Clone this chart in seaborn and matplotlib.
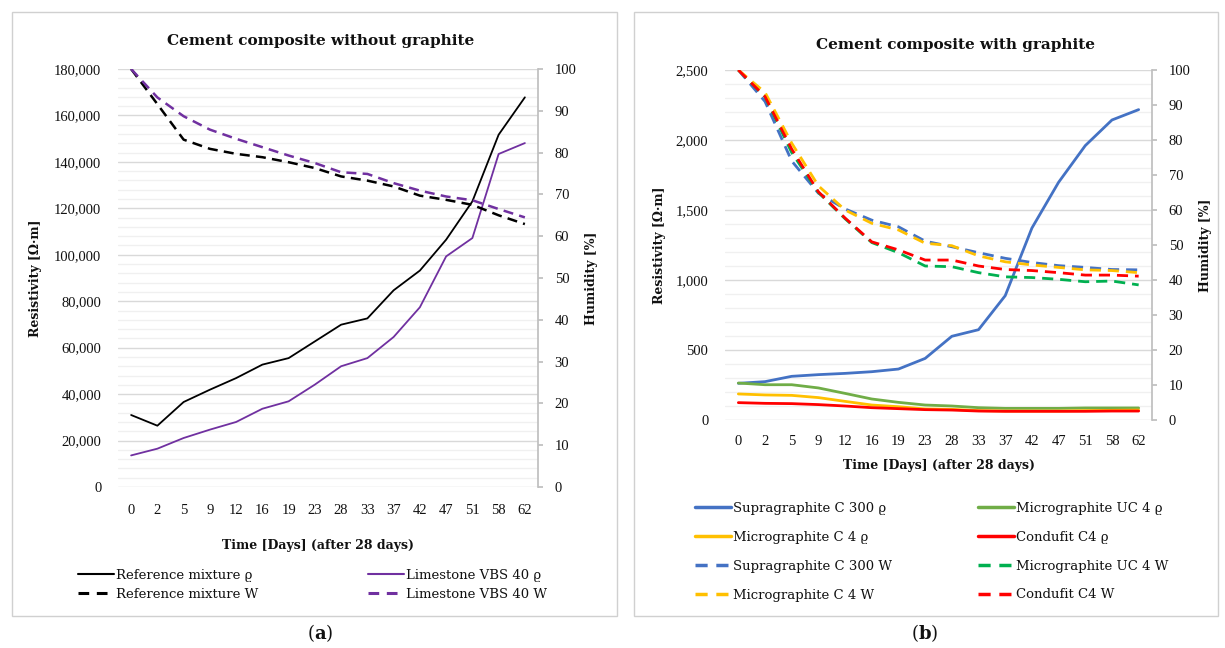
import numpy as np
import pandas as pd
import matplotlib
matplotlib.use('Agg')
import matplotlib.pyplot as plt
import seaborn as sns
from matplotlib.ticker import MultipleLocator, FuncFormatter
from matplotlib.lines import Line2D
from matplotlib.patches import Rectangle

# ---------------- data ----------------
days = ['0', '2', '5', '9', '12', '16', '19', '23', '28', '33', '37', '42', '47', '51', '58', '62']

# panel (a): without graphite
ref_rho = [31000, 26400, 36600, 41900, 46900, 52700, 55500, 62700, 69900, 72600,
           84700, 93200, 106500, 123000, 151700, 167800]
lime_rho = [13600, 16500, 21100, 24700, 28000, 33700, 36900, 44100, 52000, 55500,
            64600, 77400, 99300, 107200, 143400, 148100]
ref_w = [100, 91.6, 83.1, 80.9, 79.7, 78.9, 77.7, 76.3, 74.3, 73.3, 71.9, 69.7, 68.7, 67.5, 65.0, 62.9]
lime_w = [100, 93.2, 88.7, 85.5, 83.3, 81.3, 79.3, 77.5, 75.3, 74.9, 72.7, 70.9, 69.5, 68.6, 66.5, 64.5]

# panel (b): with graphite
supra_rho = [262, 274, 312, 324, 333, 345, 364, 440, 598, 645, 888, 1371, 1698, 1960, 2143, 2217]
microuc_rho = [264, 252, 252, 229, 190, 150, 126, 107, 100, 88, 83, 83, 83, 86, 86, 86]
microc_rho = [186, 179, 176, 160, 133, 107, 95, 79, 76, 67, 64, 64, 64, 67, 69, 71]
condufit_rho = [124, 119, 117, 110, 100, 88, 81, 74, 71, 64, 62, 62, 62, 62, 64, 64]
supra_w = [100, 91.0, 74.0, 64.8, 60.3, 57.1, 55.2, 51.1, 49.5, 47.8, 46.2, 45.0, 44.1, 43.6, 43.0, 42.9]
microuc_w = [100, 92.3, 76.4, 65.0, 57.5, 50.7, 47.8, 44.0, 43.8, 42.1, 40.9, 40.7, 40.2, 39.5, 39.7, 38.6]
microc_w = [100, 93.6, 79.1, 66.9, 60.0, 56.2, 54.3, 50.5, 49.8, 46.9, 45.2, 44.3, 43.6, 42.9, 42.7, 42.1]
condufit_w = [100, 92.4, 77.4, 65.2, 57.7, 50.9, 48.6, 45.7, 45.7, 44.0, 43.0, 42.7, 42.1, 41.4, 41.4, 41.1]

labels_a = ['Reference mixture ϱ', 'Reference mixture W', 'Limestone VBS 40 ϱ', 'Limestone VBS 40 W']
labels_b = ['Supragraphite C 300 ϱ', 'Micrographite C 4 ϱ', 'Supragraphite C 300 W', 'Micrographite C 4 W',
            'Micrographite UC 4 ϱ', 'Condufit C4 ϱ', 'Micrographite UC 4 W', 'Condufit C4 W']

# ---------------- style ----------------
sns.set_theme(style='white')
plt.rcParams['font.family'] = ['DejaVu Serif', 'DejaVu Sans']
plt.rcParams['mathtext.fontset'] = 'dejavuserif'
TXT = '#111111'
TICKFONT = ['Liberation Serif', 'DejaVu Serif']
TICKSIZE = 10.5

W, H = 1225, 648
fig = plt.figure(figsize=(W / 100, H / 100), dpi=100)
fig.patch.set_facecolor('white')


def rect(x0, y0, x1, y1):
    return [x0 / W, 1 - y1 / H, (x1 - x0) / W, (y1 - y0) / H]


# panel frames
for (x0, x1) in [(12, 617), (634, 1218)]:
    fig.patches.append(Rectangle((x0 / W, 1 - 616 / H), (x1 - x0) / W, (616 - 12) / H,
                                 transform=fig.transFigure, fill=False, ec='#D0D0D0', lw=1))

axL = fig.add_axes(rect(118, 69, 538, 487))
axR = fig.add_axes(rect(725, 70, 1152, 420))
pos = np.arange(len(days))


def fontify(ax):
    for lab in ax.get_xticklabels() + ax.get_yticklabels():
        lab.set_family(TICKFONT)
        lab.set_fontsize(TICKSIZE)
        lab.set_color(TXT)


def setup(ax, ymax, major, minor, xpad):
    ax.set_xlim(-0.5, len(days) - 0.5)
    ax.set_ylim(0, ymax)
    ax.yaxis.set_major_locator(MultipleLocator(major))
    ax.yaxis.set_minor_locator(MultipleLocator(minor))
    ax.yaxis.set_major_formatter(FuncFormatter(lambda v, p: f'{int(round(v)):,}'))
    ax.grid(axis='y', which='major', color='#D9D9D9', lw=1)
    ax.grid(axis='y', which='minor', color='#F0F0F0', lw=1)
    ax.grid(axis='x', visible=False)
    for s in ax.spines.values():
        s.set_visible(False)
    ax.set_xticks(pos)
    ax.set_xticklabels(days)
    ax.tick_params(axis='x', length=0, pad=xpad)
    ax.tick_params(axis='y', which='both', length=0, pad=12)
    ax.set_axisbelow(True)
    tw = ax.twinx()
    tw.set_ylim(0, 100)
    tw.yaxis.set_major_locator(MultipleLocator(10))
    for k, s in tw.spines.items():
        s.set_visible(k == 'right')
    tw.spines['right'].set_color('#BFBFBF')
    tw.tick_params(axis='y', length=3.5, color='#BFBFBF', direction='out', pad=8.5)
    tw.grid(False)
    return tw


def draw(ax, vals, color, lw, dashed):
    df = pd.DataFrame({'pos': pos, 'val': vals})
    ls = (0, (4, 2.5)) if dashed else '-'
    sns.lineplot(data=df, x='pos', y='val', ax=ax, color=color, lw=lw, linestyle=ls)
    ax.set_xlabel('')
    ax.set_ylabel('')


twL = setup(axL, 180000, 20000, 4000, 12)
twR = setup(axR, 2500, 500, 100, 11)

# panel (a)
BLACK, PURPLE = '#000000', '#7030A0'
draw(axL, ref_rho, BLACK, 1.3, False)
draw(axL, lime_rho, PURPLE, 1.3, False)
draw(twL, ref_w, BLACK, 1.8, True)
draw(twL, lime_w, PURPLE, 1.8, True)

# panel (b)
BLUE, GREEN, YEL, RED, GREEN2 = '#4472C4', '#70AD47', '#FFC000', '#FF0000', '#00B050'
draw(axR, supra_rho, BLUE, 2.0, False)
draw(axR, microuc_rho, GREEN, 2.0, False)
draw(axR, microc_rho, YEL, 2.0, False)
draw(axR, condufit_rho, RED, 2.0, False)
draw(twR, supra_w, BLUE, 2.0, True)
draw(twR, microuc_w, GREEN2, 2.0, True)
draw(twR, microc_w, YEL, 2.0, True)
draw(twR, condufit_w, RED, 2.0, True)

for a in (axL, axR):
    a.set_xticks(pos)
    a.set_xticklabels(days)
for a in (axL, axR, twL, twR):
    fontify(a)

# titles and axis labels
fig.text(321 / W, 1 - 41 / H, 'Cement composite without graphite', ha='center', va='center',
         fontsize=11, fontweight='bold', color=TXT)
fig.text(955 / W, 1 - 45 / H, 'Cement composite with graphite', ha='center', va='center',
         fontsize=11, fontweight='bold', color=TXT)
fig.text(35 / W, 1 - 278 / H, 'Resistivity [Ω·m]', rotation=90, ha='center', va='center',
         fontsize=9, fontweight='bold', color=TXT)
fig.text(592 / W, 1 - 278 / H, 'Humidity [%]', rotation=90, ha='center', va='center',
         fontsize=9, fontweight='bold', color=TXT)
fig.text(318 / W, 1 - 545 / H, 'Time [Days] (after 28 days)', ha='center', va='center',
         fontsize=9, fontweight='bold', color=TXT)
fig.text(660 / W, 1 - 245 / H, 'Resistivity [Ω·m]', rotation=90, ha='center', va='center',
         fontsize=9, fontweight='bold', color=TXT)
fig.text(1206 / W, 1 - 245 / H, 'Humidity [%]', rotation=90, ha='center', va='center',
         fontsize=9, fontweight='bold', color=TXT)
fig.text(939 / W, 1 - 466 / H, 'Time [Days] (after 28 days)', ha='center', va='center',
         fontsize=9, fontweight='bold', color=TXT)

# captions
fig.text(320 / W, 1 - 633 / H, r'($\mathbf{a}$)', ha='center', va='center', fontsize=13, color=TXT)
fig.text(925 / W, 1 - 633 / H, r'($\mathbf{b}$)', ha='center', va='center', fontsize=13, color=TXT)


def handle(color, lw, dashed):
    return Line2D([], [], color=color, lw=lw, linestyle=(0, (3.5, 2.5)) if dashed else '-')


def legend(handles, labels, x, y, spacing):
    fig.legend(handles, labels, loc='upper left', bbox_to_anchor=(x / W, 1 - y / H),
               frameon=False, fontsize=9.5, handlelength=2.7, handletextpad=0.15,
               borderpad=0, borderaxespad=0, labelspacing=spacing, labelcolor=TXT)


legend([handle(BLACK, 1.5, False), handle(BLACK, 2.2, True)], labels_a[:2], 78, 569, 0.42)
legend([handle(PURPLE, 1.5, False), handle(PURPLE, 2.2, True)], labels_a[2:], 368, 569, 0.42)
legend([handle(BLUE, 2.5, False), handle(YEL, 2.5, False), handle(BLUE, 2.5, True), handle(YEL, 2.5, True)],
       labels_b[:4], 695, 502, 1.2)
legend([handle(GREEN, 2.5, False), handle(RED, 2.5, False), handle(GREEN2, 2.5, True), handle(RED, 2.5, True)],
       labels_b[4:], 978, 502, 1.2)

fig.savefig('out.png', dpi=100, facecolor='white')
